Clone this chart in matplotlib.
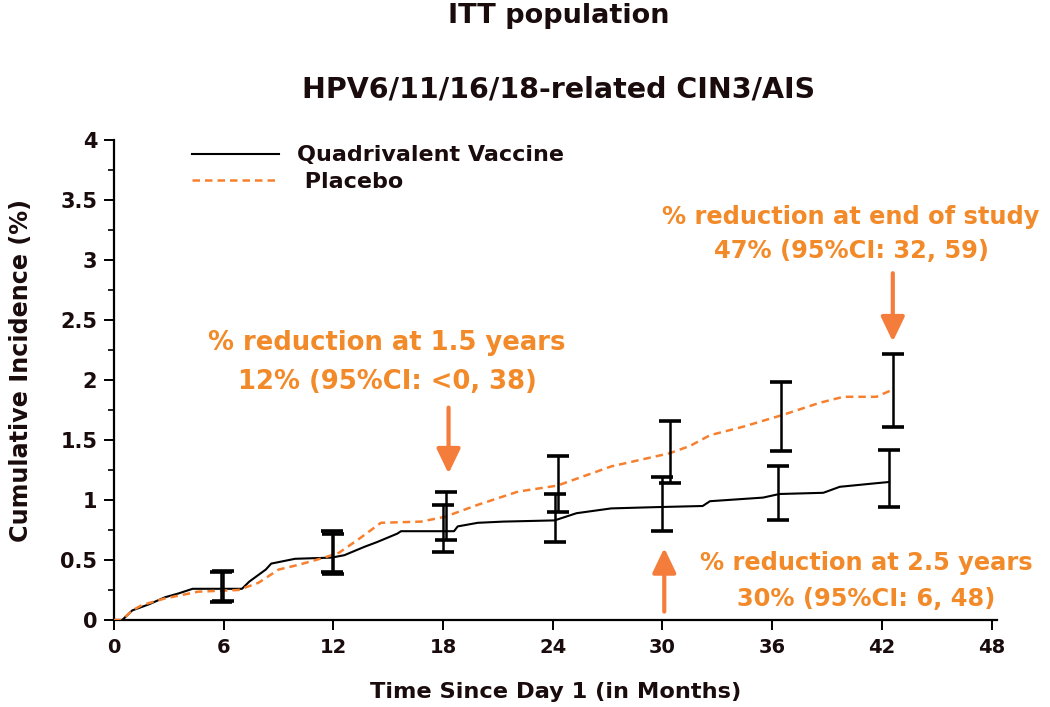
import matplotlib
matplotlib.use("Agg")
import matplotlib.pyplot as plt
from matplotlib.ticker import MultipleLocator

plt.rcParams['font.family'] = ['DejaVu Sans']

# ---------------- data ----------------
vac_t = [0, 0.45, 1.0, 1.9, 2.8, 3.5, 4.3, 7.0, 7.4, 8.3, 8.6, 9.9, 11.9, 12.6,
         13.7, 14.4, 15.5, 15.7, 18.6, 18.8, 19.9, 21.3, 24.1, 25.3, 27.2, 29.5,
         32.2, 32.6, 35.5, 36.4, 38.8, 39.7, 41.7, 42.4]
vac_v = [0, 0, 0.08, 0.13, 0.19, 0.22, 0.26, 0.26, 0.32, 0.42, 0.47, 0.51, 0.52, 0.54,
         0.61, 0.65, 0.72, 0.74, 0.74, 0.78, 0.81, 0.82, 0.83, 0.89, 0.93, 0.94,
         0.95, 0.99, 1.02, 1.05, 1.06, 1.11, 1.14, 1.15]

pla_t = [0, 0.4, 0.64, 1.0, 1.54, 2.8, 4.6, 6.8, 7.9, 9.0, 10.1, 11.5, 12.3, 13.35,
         14.6, 16.8, 18.1, 19.9, 22.1, 24.25, 27.2, 30.4, 31.5, 32.6, 34.4, 36.6,
         38.6, 39.9, 41.7, 42.6]
pla_v = [0, 0, 0.03, 0.08, 0.125, 0.18, 0.236, 0.25, 0.31, 0.42, 0.46, 0.52, 0.56, 0.67,
         0.81, 0.82, 0.86, 0.96, 1.07, 1.12, 1.28, 1.39, 1.45, 1.54, 1.61, 1.71,
         1.81, 1.86, 1.86, 1.92]

vac_ci_t = [5.85, 11.9, 18.0, 24.1, 30.0, 36.3, 42.4]
vac_ci_lo = [0.15, 0.40, 0.57, 0.65, 0.74, 0.83, 0.94]
vac_ci_hi = [0.40, 0.74, 0.96, 1.05, 1.19, 1.28, 1.42]

pla_ci_t = [5.95, 12.0, 18.15, 24.3, 30.4, 36.5, 42.6]
pla_ci_lo = [0.16, 0.38, 0.67, 0.90, 1.14, 1.41, 1.61]
pla_ci_hi = [0.41, 0.72, 1.07, 1.37, 1.66, 1.98, 2.22]

x_ticks = [0, 6, 12, 18, 24, 30, 36, 42, 48]
y_ticks = [0, 0.5, 1, 1.5, 2, 2.5, 3, 3.5, 4]
y_tick_labels = ['0', '0.5', '1', '1.5', '2', '2.5', '3', '3.5', '4']

ORANGE_TXT = '#F28A2A'
ORANGE_ARR = '#F57D3B'
ORANGE_LINE = '#F7802F'
DARK = '#1a0c0c'

# ---------------- figure ----------------
fig = plt.figure(figsize=(10.5, 7.07), dpi=100)
ax = fig.add_axes([114/1050, 1-620/707, (997-114)/1050, 480/707])

ax.plot(vac_t, vac_v, color='black', lw=1.5,
        label='Quadrivalent Vaccine', zorder=3)
ax.plot(pla_t, pla_v, color=ORANGE_LINE, lw=1.8,
        dashes=(3, 2), label=' Placebo', zorder=3)

for ts, lo, hi in [(vac_ci_t, vac_ci_lo, vac_ci_hi), (pla_ci_t, pla_ci_lo, pla_ci_hi)]:
    mid = [(a + b) / 2 for a, b in zip(lo, hi)]
    err = [[m - a for m, a in zip(mid, lo)], [b - m for m, b in zip(mid, hi)]]
    ax.errorbar(ts, mid, yerr=err, fmt='none', ecolor='black', elinewidth=1.8,
                capsize=8, capthick=2.6, zorder=4)

ax.set_xlim(0, 48.3)
ax.set_ylim(0, 4)
ax.set_xticks(x_ticks)
ax.set_xticklabels([str(t) for t in x_ticks])
ax.set_yticks(y_ticks)
ax.set_yticklabels(y_tick_labels)
ax.yaxis.set_minor_locator(MultipleLocator(0.25))

for s in ['top', 'right']:
    ax.spines[s].set_visible(False)
for s in ['left', 'bottom']:
    ax.spines[s].set_linewidth(1.6)
    ax.spines[s].set_color('black')

ax.tick_params(axis='both', which='major', direction='out', length=7, width=1.4,
               colors='black', labelcolor=DARK)
ax.tick_params(axis='x', labelsize=14, pad=6)
ax.tick_params(axis='y', labelsize=15, pad=5)
ax.tick_params(axis='y', which='minor', direction='out', length=4, width=1.2)
for lab in ax.get_xticklabels() + ax.get_yticklabels():
    lab.set_fontweight('bold')

ax.set_xlabel('Time Since Day 1 (in Months)', fontsize=16.2, fontweight='bold',
              color=DARK, labelpad=18)
ax.set_ylabel('Cumulative Incidence (%)', fontsize=17.2, fontweight='bold',
              color=DARK, labelpad=20)
ax.yaxis.label.set_y(0.52)

leg = ax.legend(loc='upper left', bbox_to_anchor=(0.076, 1.012), frameon=False,
                fontsize=16, handlelength=3.9, handletextpad=0.8,
                labelspacing=0.3, borderpad=0)
for t in leg.get_texts():
    t.set_fontweight('bold')
    t.set_color(DARK)

# titles
fig.text(559/1050, 1-16/707, 'ITT population', ha='center', va='center',
         fontsize=19.5, fontweight='bold', color=DARK)
fig.text(559/1050, 1-90/707, 'HPV6/11/16/18-related CIN3/AIS', ha='center',
         va='center', fontsize=20.5, fontweight='bold', color=DARK)

# annotations
def ptxt(x, y, s, fs):
    fig.text(x/1050, 1-y/707, s, ha='center', va='center', fontsize=fs,
             fontweight='bold', color=ORANGE_TXT)

ptxt(387, 343, '% reduction at 1.5 years', 18.6)
ptxt(387, 382, '12% (95%CI: <0, 38)', 18.6)
ptxt(851, 217, '% reduction at end of study', 17.4)
ptxt(851, 251, '47% (95%CI: 32, 59)', 17.4)
ptxt(866, 563, '% reduction at 2.5 years', 17.4)
ptxt(866, 599, '30% (95%CI: 6, 48)', 17.4)

aprops = dict(arrowstyle='-|>,head_width=0.36,head_length=0.75', color=ORANGE_ARR,
              lw=3, mutation_scale=20, shrinkA=0, shrinkB=0)
ax.annotate('', xy=(18.3, 1.22), xytext=(18.3, 1.77), arrowprops=aprops)
ax.annotate('', xy=(42.6, 2.32), xytext=(42.6, 2.89), arrowprops=aprops)
ax.annotate('', xy=(30.1, 0.60), xytext=(30.1, 0.07), arrowprops=aprops)

fig.savefig('out.png', dpi=100)
